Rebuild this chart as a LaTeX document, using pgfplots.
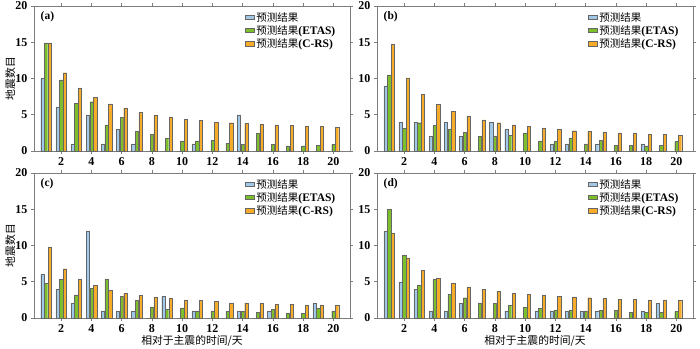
\documentclass[border=0pt]{standalone}
\usepackage{fontspec}
\setmainfont{Liberation Serif}
\newfontfamily\cjk{Noto Sans CJK SC}
\usepackage{pgfplots}
\usepackage{pgfplotstable}
\pgfplotsset{compat=1.18}

\definecolor{cb}{RGB}{160,200,232}
\definecolor{cg}{RGB}{124,190,44}
\definecolor{co}{RGB}{246,172,40}
\definecolor{fr}{RGB}{125,125,125}

\pgfplotstableread{
d b g o
1 10 14.9 14.9
2 6 9.8 10.8
3 1 6.6 8.7
4 5 6.8 7.4
5 1 3.6 6.5
6 3 4.6 5.9
7 1 2.7 5.3
8 0 2.3 5.0
9 0 1.7 4.7
10 0 1.4 4.4
11 1 1.4 4.2
12 0 1.5 4.0
13 0 1.1 3.9
14 5 0.9 3.8
15 0 2.4 3.7
16 0 0.9 3.6
17 0 0.7 3.5
18 0 0.7 3.4
19 0 0.8 3.4
20 0 0.9 3.3
}\taba

\pgfplotstableread{
d b g o
1 9 10.5 14.7
2 4 3.1 10.1
3 4 3.9 7.8
4 2 3.5 6.4
5 4 3.0 5.5
6 2 2.6 4.8
7 0 2.0 4.3
8 4 2.1 3.9
9 3 2.2 3.6
10 0 2.5 3.4
11 0 1.4 3.2
12 1 1.3 3.0
13 1 1.8 2.8
14 0 1.0 2.7
15 1 1.5 2.6
16 0 0.8 2.5
17 0 0.8 2.4
18 1 0.7 2.3
19 0 0.8 2.3
20 0 1.3 2.2
}\tabb

\pgfplotstableread{
d b g o
1 6 4.8 9.8
2 4 5.3 6.8
3 2 3.2 5.3
4 12 4.1 4.5
5 1 5.4 3.8
6 1 3.0 3.4
7 1 2.4 3.1
8 0 1.5 2.9
9 3 1.2 2.7
10 0 1.4 2.5
11 1 1.0 2.4
12 0 1.0 2.3
13 0 0.9 2.1
14 1 0.9 2.1
15 0 0.8 2.0
16 1 1.2 1.9
17 0 0.7 1.9
18 0 0.6 1.8
19 2 1.3 1.8
20 0 1.0 1.7
}\tabc

\pgfplotstableread{
d b g o
1 12 15 11.7
2 5 8.6 8.3
3 4 4.5 6.6
4 1 5.3 5.5
5 1 3.3 4.8
6 2 2.8 4.3
7 0 2.1 4.0
8 0 2.0 3.7
9 1 1.7 3.4
10 0 1.5 3.3
11 1 1.3 3.1
12 1 1.1 3.0
13 1 1.1 2.9
14 1 1.0 2.8
15 1 1.1 2.7
16 0 1.1 2.6
17 0 0.8 2.6
18 1 0.8 2.5
19 2 0.8 2.5
20 0 0.9 2.4
}\tabd

\pgfplotsset{
  panel/.style={
    scale only axis, width=316pt, height=145pt,
    anchor=north west,
    xmin=0.2, xmax=21.1, ymin=0, ymax=20,
    ybar=0.4pt, bar width=3.3pt,
    xtick={2,4,...,20}, ytick={0,5,...,20},
    tick align=outside, major tick length=3pt,
    axis line style={fr, line width=0.8pt},
    every tick/.style={fr, line width=0.6pt},
    /pgf/number format/assume math mode=true,
    tick label style={font=\fontsize{12}{13}\selectfont\bfseries},
    label style={font=\cjk\fontsize{10.8}{12}\selectfont},
    ylabel style={at={(axis description cs:-0.075,0.5)}, anchor=center, rotate=0},
    xlabel style={at={(axis description cs:0.5,0)}, anchor=center, yshift=-23pt},
    legend style={at={(0.97,0.985)}, anchor=north east, draw=none, fill=none,
      font=\fontsize{10.5}{12}\selectfont, row sep=-1.2pt,
      /tikz/every even column/.append style={column sep=2pt}},
    legend cell align=left,
    legend image code/.code={\draw[##1, bar width=0pt] (0pt,-2pt) rectangle (9pt,2.2pt);},
    every axis plot/.append style={draw=black!60, line width=0.4pt},
  },
}

\newcommand{\lat}[1]{{\fontsize{11.5}{12}\selectfont\bfseries #1}}
\newcommand{\bars}[1]{%
  \addplot[fill=cb] table[x=d,y=b] {#1};
  \addplot[fill=cg] table[x=d,y=g] {#1};
  \addplot[fill=co] table[x=d,y=o] {#1};
  \legend{{\cjk 预测结果},{\cjk 预测结果}\lat{(ETAS)},{\cjk 预测结果}\lat{(C-RS)}}
}

\begin{document}
\begin{tikzpicture}
\path[use as bounding box] (0,0) rectangle (700pt,-348pt);

\begin{axis}[panel, at={(34pt,-6pt)}, ylabel={地震数目}]
\bars{\taba}
\node[anchor=north west, font=\bfseries\fontsize{11.5}{12}\selectfont] at (rel axis cs:0.01,0.985) {(a)};
\end{axis}

\begin{axis}[panel, at={(377pt,-6pt)}]
\bars{\tabb}
\node[anchor=north west, font=\bfseries\fontsize{11.5}{12}\selectfont] at (rel axis cs:0.01,0.985) {(b)};
\end{axis}

\begin{axis}[panel, at={(34pt,-173pt)}, ylabel={地震数目}, xlabel={相对于主震的时间/天}]
\bars{\tabc}
\node[anchor=north west, font=\bfseries\fontsize{11.5}{12}\selectfont] at (rel axis cs:0.01,0.985) {(c)};
\end{axis}

\begin{axis}[panel, at={(377pt,-173pt)}, xlabel={相对于主震的时间/天}]
\bars{\tabd}
\node[anchor=north west, font=\bfseries\fontsize{11.5}{12}\selectfont] at (rel axis cs:0.01,0.985) {(d)};
\end{axis}
\end{tikzpicture}
\end{document}
